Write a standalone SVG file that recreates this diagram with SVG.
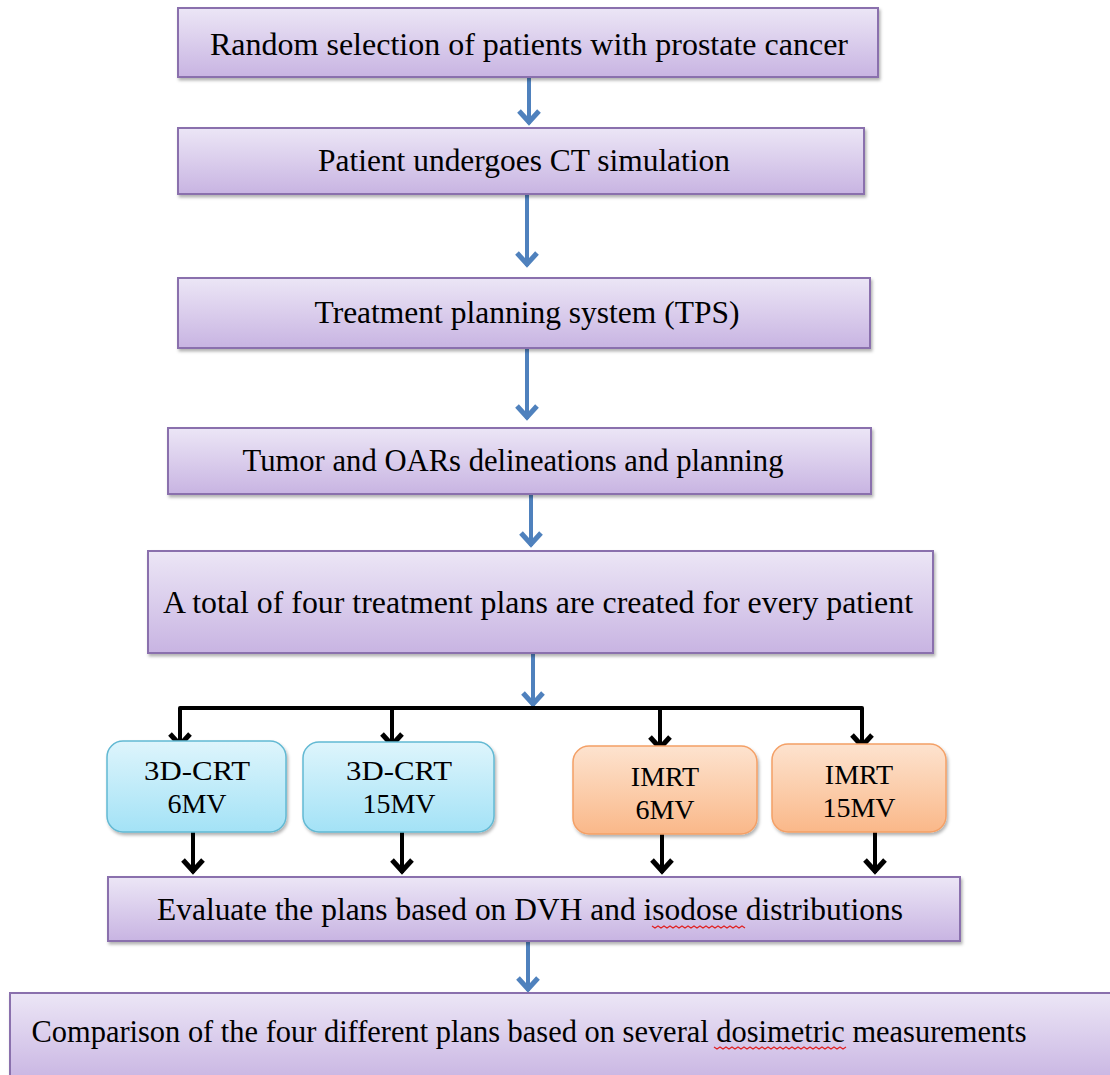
<svg xmlns="http://www.w3.org/2000/svg" width="1110" height="1075" viewBox="0 0 1110 1075">
<defs>
<linearGradient id="gPurple" x1="0" y1="0" x2="0" y2="1">
<stop offset="0" stop-color="#ece6f6"/>
<stop offset="1" stop-color="#c8b4e2"/>
</linearGradient>
<linearGradient id="gBlue" x1="0" y1="0" x2="0" y2="1">
<stop offset="0" stop-color="#def5fc"/>
<stop offset="1" stop-color="#a3e2f6"/>
</linearGradient>
<linearGradient id="gOrange" x1="0" y1="0" x2="0" y2="1">
<stop offset="0" stop-color="#fde3cf"/>
<stop offset="1" stop-color="#fab889"/>
</linearGradient>
<filter id="shadow" x="-5%" y="-10%" width="110%" height="130%">
<feDropShadow dx="1.5" dy="2.5" stdDeviation="1.5" flood-color="#000" flood-opacity="0.3"/>
</filter>
<marker id="headBlue" viewBox="0 0 24 24" refX="19" refY="12" markerWidth="24" markerHeight="24" markerUnits="userSpaceOnUse" orient="auto">
<path d="M6,2 L17,12 L6,22" fill="none" stroke="#4f81bd" stroke-width="5" stroke-linejoin="miter"/>
</marker>
<marker id="headBlack" viewBox="0 0 24 24" refX="19" refY="12" markerWidth="24" markerHeight="24" markerUnits="userSpaceOnUse" orient="auto">
<path d="M6,2 L17,12 L6,22" fill="none" stroke="#000" stroke-width="5" stroke-linejoin="miter"/>
</marker>
</defs>
<style>
.box{fill:url(#gPurple);stroke:#8a70ad;stroke-width:2;filter:url(#shadow)}
.blue{fill:url(#gBlue);stroke:#62b9d3;stroke-width:1.5;filter:url(#shadow)}
.orange{fill:url(#gOrange);stroke:#f4a066;stroke-width:1.5;filter:url(#shadow)}
.t{font-family:"Liberation Serif","Times New Roman",serif;font-size:31px;fill:#000;text-anchor:middle}
.s{font-family:"Liberation Serif","Times New Roman",serif;font-size:28px;fill:#000;text-anchor:middle}
.ba{stroke:#4f81bd;stroke-width:4;fill:none;marker-end:url(#headBlue)}
.ka{stroke:#000;stroke-width:4;fill:none;marker-end:url(#headBlack)}
.kl{stroke:#000;stroke-width:4;fill:none;stroke-linejoin:round}
.sq{stroke:#e02020;stroke-width:1.2;fill:none}
</style>
<g id="connectors">
<line class="ba" x1="529" y1="77" x2="529" y2="124"/>
<line class="ba" x1="527" y1="194" x2="527" y2="266"/>
<line class="ba" x1="527" y1="348" x2="527" y2="419"/>
<line class="ba" x1="531" y1="494" x2="531" y2="546"/>
<line class="ba" x1="533" y1="653" x2="533" y2="706"/>
<path class="kl" d="M180,730 L180,708 L862,708 L862,730"/>
<line class="ka" x1="180" y1="708" x2="180" y2="747"/>
<line class="ka" x1="392" y1="708" x2="392" y2="747"/>
<line class="ka" x1="660" y1="708" x2="660" y2="750"/>
<line class="ka" x1="862" y1="708" x2="862" y2="748"/>
<line class="ka" x1="193" y1="832" x2="193" y2="873"/>
<line class="ka" x1="402" y1="832" x2="402" y2="873"/>
<line class="ka" x1="662" y1="834" x2="662" y2="873"/>
<line class="ka" x1="875" y1="832" x2="875" y2="873"/>
<line class="ba" x1="528" y1="941" x2="528" y2="991"/>
</g>
<g id="n1"><rect class="box" x="178" y="8" width="700" height="69"/><text class="t" x="529" y="55" textLength="638" lengthAdjust="spacingAndGlyphs">Random selection of patients with prostate cancer</text></g>
<g id="n2"><rect class="box" x="178" y="128" width="686" height="66"/><text class="t" x="524" y="171" textLength="412" lengthAdjust="spacingAndGlyphs">Patient undergoes CT simulation</text></g>
<g id="n3"><rect class="box" x="178" y="278" width="692" height="70"/><text class="t" x="527" y="323" textLength="425" lengthAdjust="spacingAndGlyphs">Treatment planning system (TPS)</text></g>
<g id="n4"><rect class="box" x="168" y="428" width="703" height="66"/><text class="t" x="513" y="471" textLength="541" lengthAdjust="spacingAndGlyphs">Tumor and OARs delineations and planning</text></g>
<g id="n5"><rect class="box" x="148" y="551" width="785" height="102"/><text class="t" x="538" y="613" textLength="750" lengthAdjust="spacingAndGlyphs">A total of four treatment plans are created for every patient</text></g>
<g id="n6"><rect class="blue" x="107" y="741" width="179" height="91" rx="16"/><text class="s" x="197" y="780" textLength="106" lengthAdjust="spacingAndGlyphs">3D-CRT</text><text class="s" x="197" y="813">6MV</text></g>
<g id="n7"><rect class="blue" x="303" y="742" width="191" height="90" rx="16"/><text class="s" x="399" y="780" textLength="106" lengthAdjust="spacingAndGlyphs">3D-CRT</text><text class="s" x="399" y="813">15MV</text></g>
<g id="n8"><rect class="orange" x="573" y="746" width="184" height="88" rx="16"/><text class="s" x="665" y="786">IMRT</text><text class="s" x="665" y="819">6MV</text></g>
<g id="n9"><rect class="orange" x="772" y="744" width="174" height="88" rx="16"/><text class="s" x="859" y="784">IMRT</text><text class="s" x="859" y="817">15MV</text></g>
<g id="n10"><rect class="box" x="108" y="877" width="852" height="64"/><text class="t" x="530" y="920" textLength="746" lengthAdjust="spacingAndGlyphs">Evaluate the plans based on DVH and isodose distributions</text>
<path class="sq" d="M652,926 l3,2 l3,-2 l3,2 l3,-2 l3,2 l3,-2 l3,2 l3,-2 l3,2 l3,-2 l3,2 l3,-2 l3,2 l3,-2 l3,2 l3,-2 l3,2 l3,-2 l3,2 l3,-2 l3,2 l3,-2 l3,2 l3,-2 l3,2 l3,-2 l3,2 l3,-2 l3,2 l3,-2 l3,2"/></g>
<g id="n11"><rect class="box" x="10" y="993" width="1110" height="90"/><text class="t" x="529" y="1042" textLength="995" lengthAdjust="spacingAndGlyphs">Comparison of the four different plans based on several dosimetric measurements</text>
<path class="sq" d="M714,1047 l3,2 l3,-2 l3,2 l3,-2 l3,2 l3,-2 l3,2 l3,-2 l3,2 l3,-2 l3,2 l3,-2 l3,2 l3,-2 l3,2 l3,-2 l3,2 l3,-2 l3,2 l3,-2 l3,2 l3,-2 l3,2 l3,-2 l3,2 l3,-2 l3,2 l3,-2 l3,2 l3,-2 l3,2 l3,-2 l3,2 l3,-2 l3,2 l3,-2 l3,2 l3,-2 l3,2 l3,-2 l3,2 l3,-2 l3,2 l3,-2"/></g>
</svg>
